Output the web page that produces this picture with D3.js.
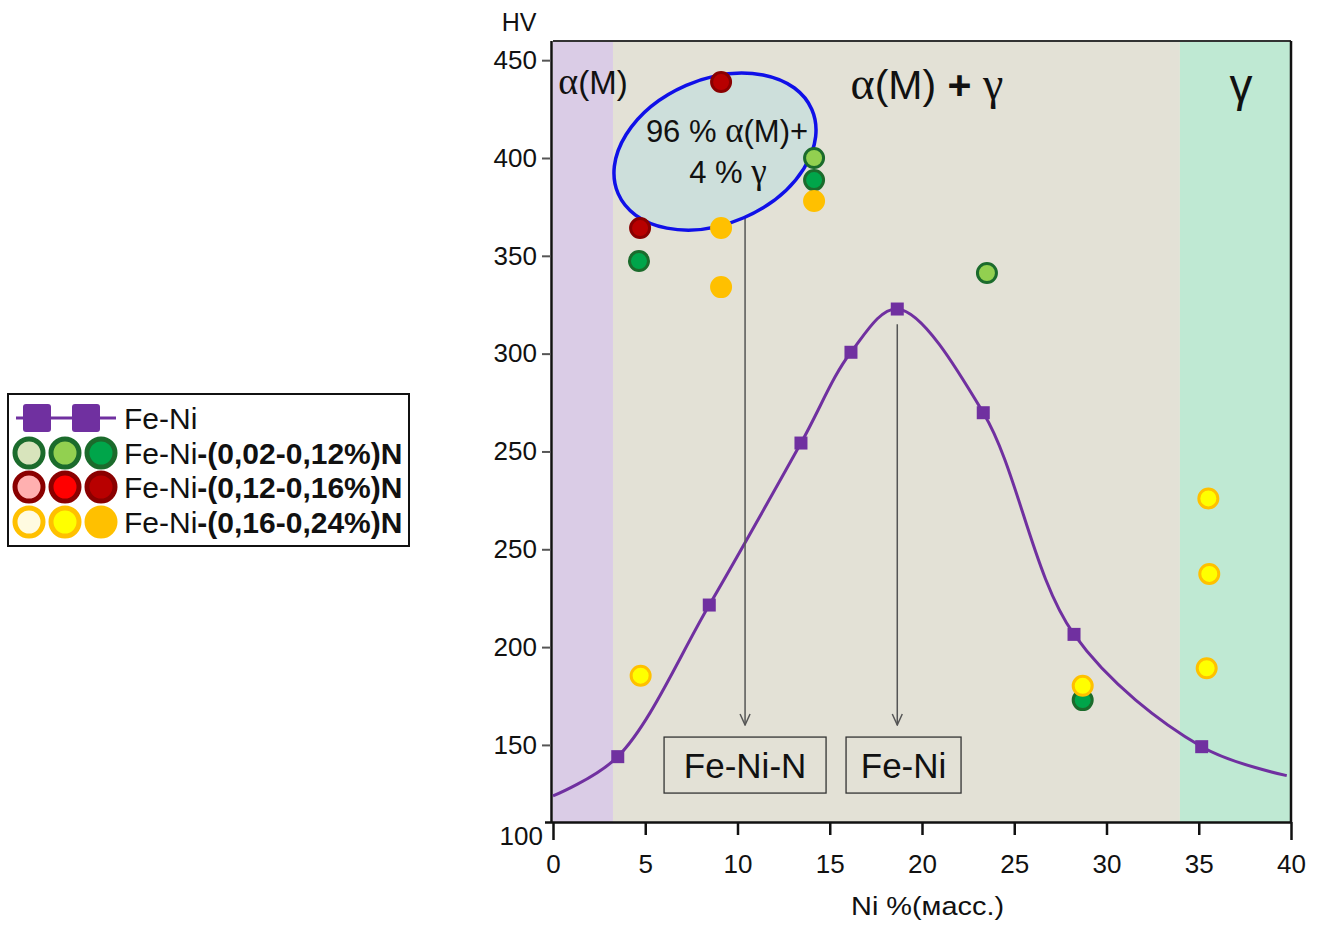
<!DOCTYPE html>
<html>
<head>
<meta charset="utf-8">
<script src="https://cdn.jsdelivr.net/npm/d3@7"></script>
<style>
  body { margin: 0; background: #fff; }
  svg { display: block; }
  text { font-family: "Liberation Sans", Arial, sans-serif; fill: #111; }
</style>
</head>
<body>
<svg id="chart" width="1322" height="925"></svg>
<script>
// ---- data -------------------------------------------------------------
// Fe-Ni alloys: Ni content, % (mass) and hardness HV (axis units)
const feNiNi = [3.51, 8.47, 13.44, 16.15, 18.66, 23.32, 28.24, 35.16];
const feNiHV = [144.0, 221.5, 304.3, 350.7, 372.8, 319.8, 206.5, 149.1];
// smoothed trend line through the Fe-Ni points (ends at 0 and ~40 % Ni)
const trendNi = [0, 3.51, 8.47, 13.44, 16.15, 18.66, 23.32, 28.24, 35.16, 39.77];
const trendHV = [123.9, 144.0, 221.5, 304.3, 350.7, 372.8, 319.8, 206.5, 149.1, 134.3];

// nitrogen-alloyed Fe-Ni; shade: 0 light, 1 medium, 2 dark
const greenNi = [4.66, 14.15, 14.15, 23.52, 28.71];
const greenHV = [397.3, 450.0, 438.7, 391.2, 172.9];
const greenShade = [2, 1, 2, 1, 2];

const redNi = [9.11, 4.72];
const redHV = [488.8, 414.2];
const redShade = [2, 2];

const yellowNi = [9.11, 9.11, 14.15, 4.75, 28.71, 35.52, 35.57, 35.43];
const yellowHV = [414.2, 384.0, 428.0, 185.4, 180.2, 276.0, 237.4, 189.2];
const yellowShade = [2, 2, 2, 1, 1, 1, 1, 1];

// phase regions along the Ni axis
const phaseFrom = [0, 3.25, 33.98];
const phaseTo = [3.25, 33.98, 40];

// axis ticks
const niTicks = [0, 5, 10, 15, 20, 25, 30, 35, 40];
const hvTicks = [100, 150, 200, 250, 300, 350, 400, 450, 500];
const hvTickLabels = ["100", "150", "200", "250", "250", "300", "350", "400", "450"];

const legendLabels = ["Fe-Ni", "-(0,02-0,12%)N", "-(0,12-0,16%)N", "-(0,16-0,24%)N"];

// ---- styles -----------------------------------------------------------
const phaseColor = ["#dacce6", "#e3e1d6", "#bfe9d3"];
const lineColor = "#7030a0";
const groups = [
  { ni: greenNi, hv: greenHV, shade: greenShade,
    fills: ["#d8e4bc", "#92d050", "#00a54a"], strokes: ["#1b6b2c", "#1b6b2c", "#1b6b2c"] },
  { ni: redNi, hv: redHV, shade: redShade,
    fills: ["#ffb0b0", "#ff0000", "#b80000"], strokes: ["#8a0000", "#8a0000", "#8a0000"] },
  { ni: yellowNi, hv: yellowHV, shade: yellowShade,
    fills: ["#fffbe0", "#ffff00", "#ffc000"], strokes: ["#ffc000", "#ffc000", "#ffc000"] }
];
const serif = '"Liberation Serif", "Times New Roman", serif';

const svg = d3.select("#chart");
const x = d3.scaleLinear().domain([0, 40]).range([553, 1291]);
const y = d3.scaleLinear().domain([110.6, 509.8]).range([822, 41]);
const [hvMin, hvMax] = y.domain();

// ---- phase regions ----------------------------------------------------
svg.append("g").selectAll("rect").data(phaseFrom).join("rect")
  .attr("x", (d) => x(d))
  .attr("y", y(hvMax))
  .attr("width", (d, i) => x(phaseTo[i]) - x(d))
  .attr("height", y(hvMin) - y(hvMax))
  .attr("fill", (d, i) => phaseColor[i]);

// frame: top and right borders
svg.append("line").attr("x1", x(0)).attr("x2", x(40)).attr("y1", y(hvMax)).attr("y2", y(hvMax))
  .attr("stroke", "#333").attr("stroke-width", 2);
svg.append("line").attr("x1", x(40)).attr("x2", x(40)).attr("y1", y(hvMax)).attr("y2", y(hvMin))
  .attr("stroke", "#111").attr("stroke-width", 2.5);

// ---- axes -------------------------------------------------------------
const xAxis = svg.append("g").attr("transform", `translate(0,${y(hvMin)})`)
  .call(d3.axisBottom(x).tickValues(niTicks).tickSize(13).tickSizeOuter(0).tickPadding(20));
xAxis.select(".domain").attr("stroke", "#111").attr("stroke-width", 2.5)
  .attr("d", `M${x(0) - 8},0.5H${x(40)}`);
xAxis.selectAll(".tick line").attr("stroke", "#111").attr("stroke-width", 2.5)
  .attr("y2", (d) => (d === 0 || d === 40) ? 18 : 13);
xAxis.selectAll(".tick text").attr("font-size", 26).attr("fill", "#111");

const yAxis = svg.append("g").attr("transform", `translate(${x(0) - 2},0)`)
  .call(d3.axisLeft(y).tickValues(hvTicks).tickSize(9).tickSizeOuter(0).tickPadding(5)
    .tickFormat((d, i) => hvTickLabels[i]));
yAxis.select(".domain").attr("stroke", "#111").attr("stroke-width", 2.5)
  .attr("d", `M0.5,${y(hvMax)}V${y(hvMin) + 1}`);
yAxis.selectAll(".tick line").attr("stroke", "#555").attr("stroke-width", 2)
  .attr("display", (d) => d < hvMin ? "none" : null);
yAxis.selectAll(".tick text").attr("font-size", 26).attr("fill", "#111")
  .attr("dy", (d) => d < hvMin ? "0.05em" : "0.32em")
  .attr("x", (d) => d < hvMin ? -8 : -14);

svg.append("text").attr("x", 519).attr("y", 31).attr("text-anchor", "middle")
  .attr("font-size", 25).text("HV");
svg.append("text").attr("x", x(20.3)).attr("y", 915).attr("text-anchor", "middle")
  .attr("font-size", 26).attr("textLength", 153).attr("lengthAdjust", "spacingAndGlyphs")
  .text("Ni %(масс.)");

// ---- Fe-Ni trend and markers -----------------------------------------
const trend = d3.line().x((d) => x(d[0])).y((d) => y(d[1])).curve(d3.curveCatmullRom.alpha(0.5));
svg.append("path").datum(d3.zip(trendNi, trendHV))
  .attr("d", trend).attr("fill", "none").attr("stroke", lineColor).attr("stroke-width", 3);
svg.append("g").selectAll("rect").data(d3.zip(feNiNi, feNiHV)).join("rect")
  .attr("x", (d) => x(d[0]) - 6.5).attr("y", (d) => y(d[1]) - 6.5)
  .attr("width", 13).attr("height", 13).attr("fill", lineColor);

// ---- arrows and boxes -------------------------------------------------
const defs = svg.append("defs");
defs.append("marker").attr("id", "vhead").attr("viewBox", "-13 -7 14 14")
  .attr("refX", 0).attr("refY", 0).attr("markerWidth", 14).attr("markerHeight", 14)
  .attr("markerUnits", "userSpaceOnUse").attr("orient", "auto")
  .append("path").attr("d", "M-11,-5L0,0L-11,5").attr("fill", "none")
  .attr("stroke", "#555").attr("stroke-width", 1.5);

const arrowNi = [10.41, 18.66];
const arrowFrom = [421.9, 365.0];
const arrowTo = [160.2, 160.2];
svg.append("g").selectAll("line").data(arrowNi).join("line")
  .attr("x1", (d) => x(d)).attr("x2", (d) => x(d))
  .attr("y1", (d, i) => y(arrowFrom[i])).attr("y2", (d, i) => y(arrowTo[i]))
  .attr("stroke", "#555").attr("stroke-width", 1.5)
  .attr("marker-end", "url(#vhead)");

const boxNi = [10.41, 19.0];
const boxText = ["Fe-Ni-N", "Fe-Ni"];
const boxW = [162, 115];
const boxHV = 139.7;
const boxes = svg.append("g").selectAll("g").data(boxNi).join("g")
  .attr("transform", (d) => `translate(${x(d)},${y(boxHV)})`);
boxes.append("rect").attr("x", (d, i) => -boxW[i] / 2).attr("y", -28)
  .attr("width", (d, i) => boxW[i]).attr("height", 56)
  .attr("fill", "none").attr("stroke", "#333").attr("stroke-width", 1.3);
boxes.append("text").attr("text-anchor", "middle").attr("y", 13)
  .attr("font-size", 35).text((d, i) => boxText[i]);

// ---- two-phase annotation ellipse -------------------------------------
const ell = svg.append("g").attr("transform", `translate(${x(8.78)},${y(453.3)})`);
ell.append("ellipse").attr("rx", 105.6).attr("ry", 72.2).attr("transform", "rotate(-23.5)")
  .attr("fill", "#cddfdb")
  .attr("stroke", "#1010e8").attr("stroke-width", 3.5);

const t1 = svg.append("text").attr("x", x(9.43)).attr("y", 142).attr("text-anchor", "middle")
  .attr("font-size", 31);
t1.append("tspan").text("96 % ");
t1.append("tspan").attr("font-family", serif).attr("font-size", 35).text("α");
t1.append("tspan").text("(M)+");
const t2 = svg.append("text").attr("x", x(9.48)).attr("y", 183).attr("text-anchor", "middle")
  .attr("font-size", 31);
t2.append("tspan").text("4 % ");
t2.append("tspan").attr("font-family", serif).attr("font-size", 35).text("γ");

// ---- nitrogen-alloyed points -----------------------------------------
groups.forEach((g) => {
  svg.append("g").selectAll("circle").data(g.ni).join("circle")
    .attr("cx", (d) => x(d)).attr("cy", (d, i) => y(g.hv[i])).attr("r", 9.5)
    .attr("fill", (d, i) => g.fills[g.shade[i]])
    .attr("stroke", (d, i) => g.strokes[g.shade[i]]).attr("stroke-width", 3);
});

// ---- phase labels -----------------------------------------------------
const pa = svg.append("text").attr("x", x(2.17)).attr("y", y(488.8)).attr("dy", "0.35em")
  .attr("text-anchor", "middle").attr("font-size", 33);
pa.append("tspan").attr("font-family", serif).attr("font-size", 38).text("α");
pa.append("tspan").text("(M)");

const pb = svg.append("text").attr("x", x(20.27)).attr("y", y(487.3)).attr("dy", "0.35em")
  .attr("text-anchor", "middle").attr("font-size", 41);
pb.append("tspan").attr("font-family", serif).attr("font-size", 46).text("α");
pb.append("tspan").text("(M) ");
pb.append("tspan").attr("font-weight", "bold").text("+");
pb.append("tspan").attr("font-family", serif).attr("font-size", 46).text(" γ");

svg.append("text").attr("x", x(37.29)).attr("y", y(487.3)).attr("dy", "0.35em")
  .attr("text-anchor", "middle").attr("font-family", serif).attr("font-size", 46).text("γ");

// ---- legend -----------------------------------------------------------
const lg = svg.append("g");
lg.append("rect").attr("x", 8).attr("y", 394).attr("width", 401).attr("height", 152)
  .attr("fill", "#fff").attr("stroke", "#111").attr("stroke-width", 2);
const rowY = [418, 453, 487, 522];
lg.append("line").attr("x1", 16).attr("x2", 116).attr("y1", rowY[0]).attr("y2", rowY[0])
  .attr("stroke", lineColor).attr("stroke-width", 3);
lg.selectAll("rect.sym").data([37, 86]).join("rect").attr("class", "sym")
  .attr("x", (d) => d - 14).attr("y", rowY[0] - 14).attr("width", 28).attr("height", 28)
  .attr("rx", 3).attr("fill", lineColor);
groups.forEach((g, gi) => {
  lg.append("g").selectAll("circle").data([29, 65, 101]).join("circle")
    .attr("cx", (d) => d).attr("cy", rowY[gi + 1]).attr("r", 14)
    .attr("fill", (d, i) => g.fills[i]).attr("stroke", g.strokes[0]).attr("stroke-width", 5);
});
lg.selectAll("text").data(legendLabels).join("text")
  .attr("x", 124).attr("y", (d, i) => rowY[i]).attr("dy", "0.36em").attr("font-size", 30)
  .each(function (d, i) {
    const t = d3.select(this);
    t.append("tspan").text("Fe-Ni");
    if (i > 0) t.append("tspan").attr("font-weight", "bold").text(d);
  });
</script>
</body>
</html>
